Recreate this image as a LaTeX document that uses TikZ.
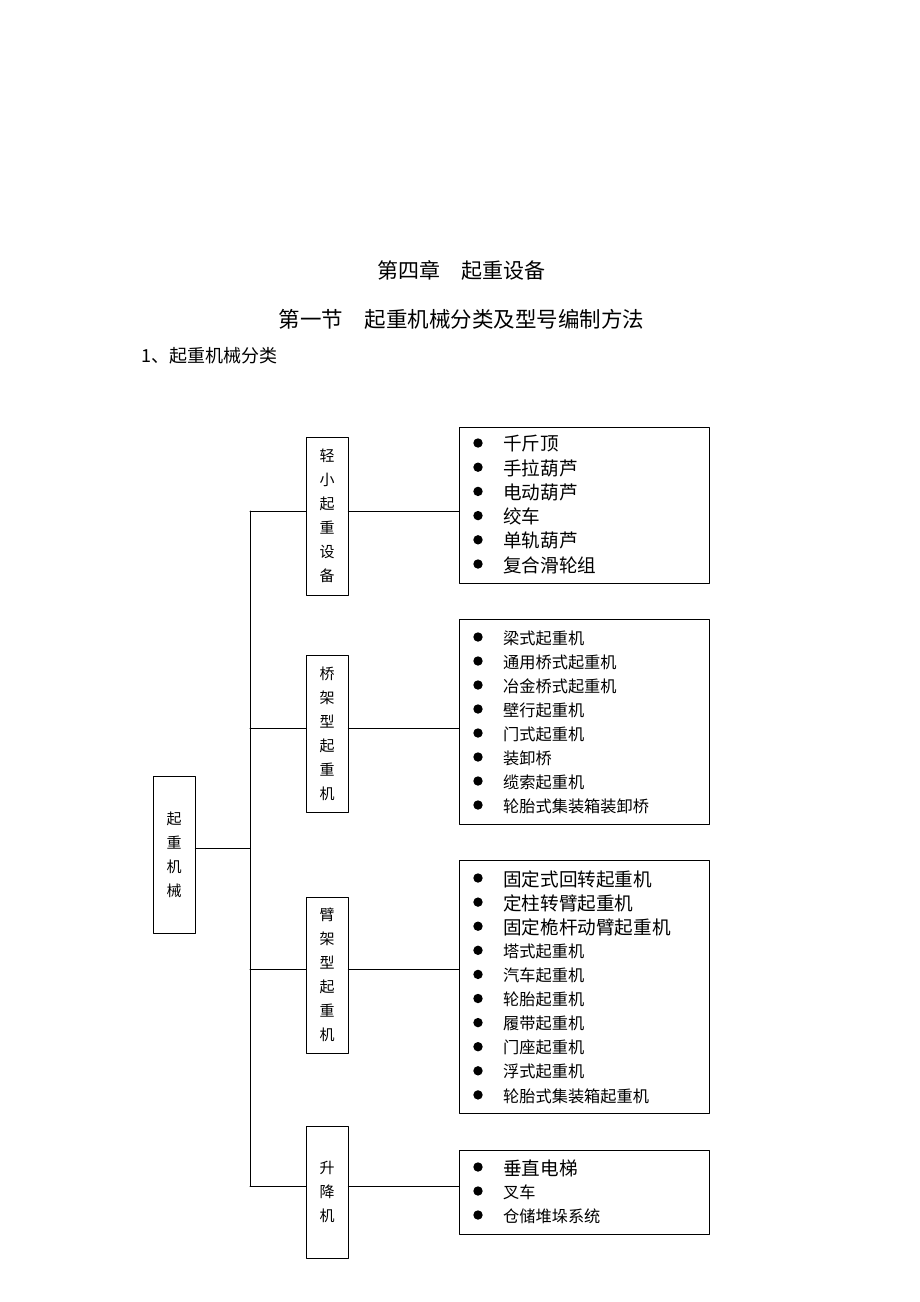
\documentclass[tikz,border=0pt]{standalone}
\usepackage{fontspec}
\setmainfont{Noto Sans CJK SC}
\begin{document}
\begin{tikzpicture}[x=1pt, y=-1pt, line join=round, line cap=round,
	catbox/.style={draw, line width=0.9pt, minimum width=42pt, align=center, inner sep=0pt, font=\fontsize{15}{24}\selectfont},
	listbox/.style={draw, line width=0.9pt, minimum width=250pt, inner sep=0pt},
	itemL/.style={anchor=west, inner sep=0pt, font=\fontsize{18.6}{20}\selectfont},
	itemS/.style={anchor=west, inner sep=0pt, font=\fontsize{16.2}{18}\selectfont},
	link/.style={line width=1pt}]
	\useasboundingbox (0,0) rectangle (920,1302);
	% Titel
	\node[font=\fontsize{21}{24}\selectfont] (kap) at (461.5,270) {第四章　起重设备};
	\node[font=\fontsize{21.5}{24}\selectfont] (abs) at (461.5,319) {第一节　起重机械分类及型号编制方法};
	\node[anchor=west, inner sep=0pt, font=\fontsize{18}{20}\selectfont] (pkt) at (141,356) {1、起重机械分类};
	% Kaesten
	\node[catbox, minimum height=157pt] (root) at (174,854.5) {起\\重\\机\\械};
	\node[catbox, minimum height=158pt] (qing) at (327,516) {轻\\小\\起\\重\\设\\备};
	\node[catbox, minimum height=157pt] (qiao) at (327,733.5) {桥\\架\\型\\起\\重\\机};
	\node[catbox, minimum height=156pt] (bi) at (327,975) {臂\\架\\型\\起\\重\\机};
	\node[catbox, minimum height=132pt] (sheng) at (327,1192) {升\\降\\机};
	\node[listbox, minimum height=156pt] (d1) at (584,505) {};
	\node[listbox, minimum height=205pt] (d2) at (584,721.5) {};
	\node[listbox, minimum height=253pt] (d3) at (584,986.5) {};
	\node[listbox, minimum height=84pt] (d4) at (584,1192) {};
	% Listen
	\foreach \t/\s [count=\i from 0] in {千斤顶/itemL, 手拉葫芦/itemL, 电动葫芦/itemL, 绞车/itemL, 单轨葫芦/itemL, 复合滑轮组/itemL}
	{\node[\s] (ea\i) at (503,444+24.2*\i) {\t}; \fill (478,443+24.2*\i) circle (4.7pt);}
	\foreach \t/\s [count=\i from 0] in {梁式起重机/itemS, 通用桥式起重机/itemS, 冶金桥式起重机/itemS, 壁行起重机/itemS, 门式起重机/itemS, 装卸桥/itemS, 缆索起重机/itemS, 轮胎式集装箱装卸桥/itemS}
	{\node[\s] (eb\i) at (503,638+24*\i) {\t}; \fill (478,637+24*\i) circle (4.7pt);}
	\foreach \t/\s [count=\i from 0] in {固定式回转起重机/itemL, 定柱转臂起重机/itemL, 固定桅杆动臂起重机/itemL, 塔式起重机/itemS, 汽车起重机/itemS, 轮胎起重机/itemS, 履带起重机/itemS, 门座起重机/itemS, 浮式起重机/itemS, 轮胎式集装箱起重机/itemS}
	{\node[\s] (ec\i) at (503,879+24.1*\i) {\t}; \fill (478,878+24.1*\i) circle (4.7pt);}
	\foreach \t/\s [count=\i from 0] in {垂直电梯/itemL, 叉车/itemS, 仓储堆垛系统/itemS}
	{\node[\s] (ed\i) at (503,1168+24*\i) {\t}; \fill (478,1167+24*\i) circle (4.7pt);}
	% Verbindungen
	\coordinate (j0) at (250,848);
	\coordinate (j1) at (250,511);
	\coordinate (j2) at (250,728);
	\coordinate (j3) at (250,969);
	\coordinate (j4) at (250,1186);
	\draw[link] (j1) -- (j4);
	\draw[link] (j0 -| root.east) -- (j0);
	\draw[link] (j1) -- (j1 -| qing.west) (j1 -| qing.east) -- (j1 -| d1.west);
	\draw[link] (j2) -- (j2 -| qiao.west) (j2 -| qiao.east) -- (j2 -| d2.west);
	\draw[link] (j3) -- (j3 -| bi.west) (j3 -| bi.east) -- (j3 -| d3.west);
	\draw[link] (j4) -- (j4 -| sheng.west) (j4 -| sheng.east) -- (j4 -| d4.west);
\end{tikzpicture}
\end{document}
